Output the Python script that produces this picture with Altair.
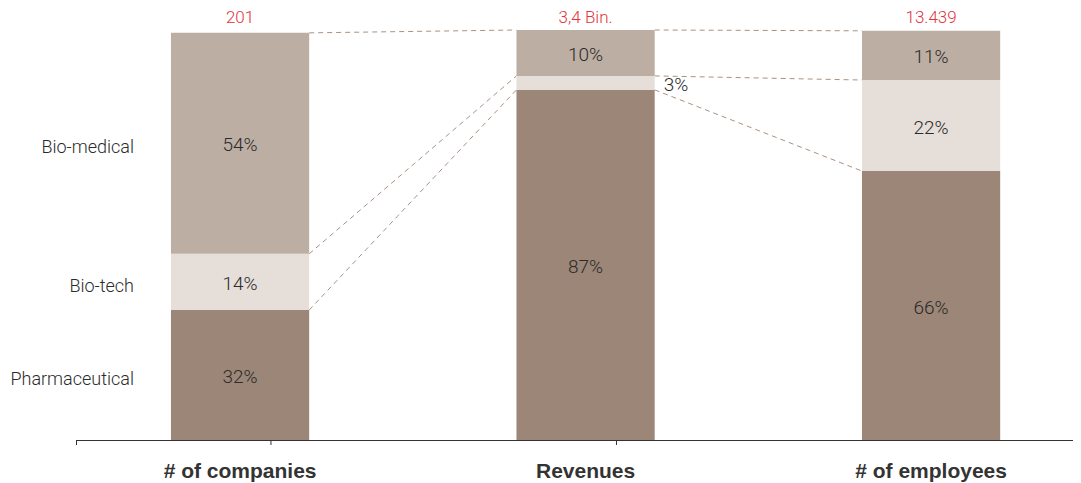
import altair as alt
import pandas as pd

# ---------------- data ----------------
categories = ["# of companies", "Revenues", "# of employees"]
segments = ["Pharmaceutical", "Bio-tech", "Bio-medical"]  # bottom -> top
pharma = [31.7, 85.4, 65.6]
biotech = [13.7, 3.4, 22.2]
biomed = [53.9, 11.2, 12.0]
pharma_labels = ["32%", "87%", "66%"]
biotech_labels = ["14%", "3%", "22%"]
biomed_labels = ["54%", "10%", "11%"]
totals = ["201", "3,4 Bin.", "13.439"]

series = {
    "Pharmaceutical": (pharma, pharma_labels),
    "Bio-tech": (biotech, biotech_labels),
    "Bio-medical": (biomed, biomed_labels),
}
colors = ["#9b8678", "#e5ded9", "#bdaea4"]

rows = []
for i, c in enumerate(categories):
    base = 0.0
    for s in segments:
        v = series[s][0][i]
        rows.append(dict(cat=c, seg=s, y0=base, y1=base + v, mid=base + v / 2,
                         value=v, label=series[s][1][i]))
        base += v
seg_df = pd.DataFrame(rows)

conn_rows = []
for i in range(len(categories) - 1):
    for k in range(len(segments)):
        ya = sum(series[s][0][i] for s in segments[: k + 1])
        yb = sum(series[s][0][i + 1] for s in segments[: k + 1])
        conn_rows.append(dict(src=categories[i], dst=categories[i + 1], ya=ya, yb=yb))
conn_df = pd.DataFrame(conn_rows)

tot_df = pd.DataFrame(dict(cat=categories, total=totals))
tick_df = pd.DataFrame(dict(cat=categories[:-1]))
origin_df = pd.DataFrame(dict(k=[0]))

W, H = 997, 410
xscale = alt.Scale(domain=categories, paddingInner=0.6, paddingOuter=0.2428,
                   align=0.566, round=False)
yscale = alt.Scale(domain=[0, 100])
FONT = "Roboto"


def X(field="cat", **kw):
    return alt.X(f"{field}:N", title=None, scale=xscale, sort=categories, **kw)


bars = alt.Chart(seg_df).mark_bar().encode(
    x=X(),
    y=alt.Y("y0:Q", scale=yscale, axis=None),
    y2="y1:Q",
    color=alt.Color("seg:N", scale=alt.Scale(domain=segments, range=colors), legend=None),
)

connectors = alt.Chart(conn_df).mark_rule(
    color="#a89282", strokeDash=[5, 4], strokeWidth=1
).encode(
    x=X("src", bandPosition=1),
    x2=alt.X2("dst:N", bandPosition=0),
    y=alt.Y("ya:Q", scale=yscale, axis=None),
    y2="yb:Q",
)

inside = alt.Chart(seg_df).transform_filter("datum.value >= 5").mark_text(
    font=FONT, fontWeight=300, fontSize=19, color="#2b2b2b", baseline="middle", dy=2
).encode(
    x=X(),
    y=alt.Y("mid:Q", scale=yscale, axis=None),
    text="label:N",
)

outside = alt.Chart(seg_df).transform_filter("datum.value < 5").mark_text(
    font=FONT, fontWeight=300, fontSize=19, color="#2b2b2b", baseline="middle",
    align="left", dx=9, dy=2
).encode(
    x=X(bandPosition=1),
    y=alt.Y("mid:Q", scale=yscale, axis=None),
    text="label:N",
)

left_labels = alt.Chart(seg_df).transform_filter(
    alt.datum.cat == categories[0]
).mark_text(
    font=FONT, fontWeight=300, fontSize=18, color="#2b2b2b", baseline="middle",
    align="right", dy=5
).encode(
    x=alt.value(58),
    y=alt.Y("mid:Q", scale=yscale, axis=None),
    text="seg:N",
)

top_totals = alt.Chart(tot_df).mark_text(
    font=FONT, fontWeight=300, fontSize=17, color="#e0353d", baseline="middle"
).encode(
    x=X(),
    y=alt.value(-12),
    text="total:N",
)

ticks = alt.Chart(tick_df).mark_rule(color="#333333", strokeWidth=1).encode(
    x=X(bandPosition=1),
    xOffset=alt.value(100),
    y=alt.value(H),
    y2=alt.value(H + 5),
)

origin_tick = alt.Chart(origin_df).mark_rule(color="#333333", strokeWidth=1).encode(
    x=alt.value(0.5),
    y=alt.value(H),
    y2=alt.value(H + 5),
)

chart = alt.layer(
    connectors, bars, inside, outside, left_labels, top_totals, ticks, origin_tick
).properties(
    width=W,
    height=H,
    autosize=alt.AutoSizeParams(type="none"),
    padding={"left": 68, "top": 22, "right": 0, "bottom": 45},
).configure_view(
    stroke=None
).configure_axisX(
    labelFont="Liberation Sans",
    labelFontWeight="bold",
    labelFontSize=21,
    labelColor="#333333",
    labelPadding=20,
    labelAngle=0,
    ticks=False,
    domainColor="#333333",
    domainWidth=1,
    grid=False,
)

chart.save("out.html", embed_options={"renderer": "svg", "actions": False})
